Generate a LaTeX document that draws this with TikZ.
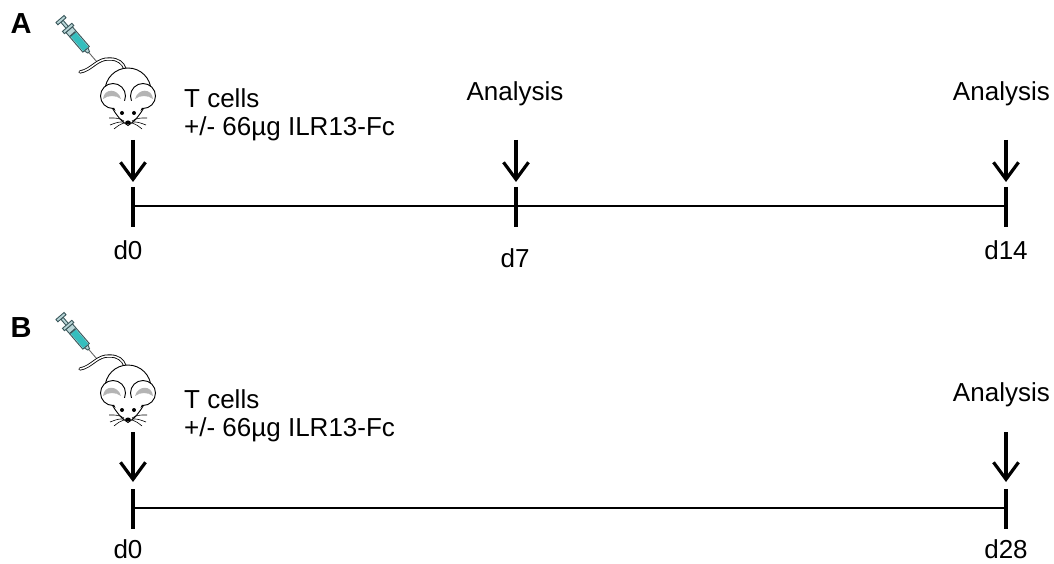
\documentclass[tikz,border=0pt]{standalone}
\usepackage{fontspec}
\setmainfont{Liberation Sans}
\usetikzlibrary{arrows.meta}

\definecolor{barrelfill}{HTML}{B9D6D8}
\definecolor{liquid}{HTML}{35BEBE}
\definecolor{syrline}{HTML}{3A575B}
\definecolor{earfill}{HTML}{B4B4B4}

\tikzset{
  lbl/.style={font=\fontsize{26}{28}\selectfont, inner sep=0pt},
  panel/.style={font=\fontsize{29}{30}\selectfont\bfseries, inner sep=0pt},
  timeline/.style={line width=2pt},
  tickmark/.style={line width=3.6pt},
  cue/.style={line width=3.2pt, -{Straight Barb[length=17pt,width=25pt,line width=3.2pt]}},
  % syringe drawn along its own x axis, plunger at the origin
  syringe/.pic={
    \begin{scope}[draw=syrline, line width=0.9pt]
      \draw[gray!80!black, line width=0.9pt] (44,0) -- (57,0);
      \filldraw[fill=barrelfill] (40,-2.4) -- (44,-1.1) -- (44,1.1) -- (40,2.4) -- cycle;
      \filldraw[fill=barrelfill] (14,-4.3) rectangle (40,4.3);
      \fill[liquid] (20.5,-3.3) rectangle (39.4,3.3);
      \fill[syrline] (19,-3.5) rectangle (20.5,3.5);
      \filldraw[fill=barrelfill] (3,-1.5) rectangle (14,1.5);
      \filldraw[fill=barrelfill] (11,-6.2) rectangle (14,6.2);
      \filldraw[fill=barrelfill] (0,-5.4) rectangle (3,5.4);
    \end{scope}
  },
  % mouse seen from above, head centre at the origin
  mouse/.pic={
    % tail
    \draw[line width=3.2pt, line cap=round]
      (-48,-28) .. controls (-36,-30) and (-31,-42) .. (-18,-41)
      .. controls (-10,-41) and (-5,-37) .. (-3,-31);
    \draw[white, line width=1.5pt, line cap=round]
      (-48,-28) .. controls (-36,-30) and (-31,-42) .. (-18,-41)
      .. controls (-10,-41) and (-5,-37) .. (-3,-31);
    % body
    \filldraw[fill=white, line width=0.9pt] (0,-9) ellipse [x radius=23, y radius=23];
    % ears
    \filldraw[fill=white, line width=0.9pt] (-15,-4) circle [radius=12.5];
    \filldraw[fill=white, line width=0.9pt] (15,-4) circle [radius=12.5];
    \fill[earfill] (-25,-1) .. controls (-24,-12) and (-10,-12) .. (-7,-1)
      .. controls (-12,-5) and (-20,-5) .. cycle;
    \fill[earfill] (25,-1) .. controls (24,-12) and (10,-12) .. (7,-1)
      .. controls (12,-5) and (20,-5) .. cycle;
    % face, covering the inner lower part of the ears
    \fill[white] (-14,7) .. controls (-11,15) and (-6,22) .. (0,25.5)
      .. controls (6,22) and (11,15) .. (14,7) -- (6,1) -- (-6,1) -- cycle;
    \draw[line width=0.9pt] (-15.5,8.4) .. controls (-11,16) and (-6,22) .. (0,25.5)
      .. controls (6,22) and (11,16) .. (15.5,8.4);
    % eyes and nose
    \fill (-6,13) circle [radius=2];
    \fill (6,13) circle [radius=2];
    \fill (0,22.5) ellipse [x radius=2.8, y radius=2];
    % whiskers
    \begin{scope}[line width=0.6pt]
      \draw (-4,21) .. controls (-10,18) .. (-19,18);
      \draw (-4,22) .. controls (-10,22) .. (-18,25);
      \draw (-4,23) .. controls (-9,25) .. (-14,29);
      \draw (4,21) .. controls (10,18) .. (19,18);
      \draw (4,22) .. controls (10,22) .. (18,25);
      \draw (4,23) .. controls (9,25) .. (14,29);
    \end{scope}
  },
}

\begin{document}
\begin{tikzpicture}[x=1pt, y=-1pt]
  \useasboundingbox (0,0) rectangle (1054,564);

  % ---------------- panel A ----------------
  \node[panel] (labA) at (21,24) {A};
  \pic[rotate=-49.3] at (60,19) {syringe};
  \pic at (128,100) {mouse};

  \node[lbl, anchor=base west] (injA1) at (184,108) {T cells};
  \node[lbl, anchor=base west] (injA2) at (184,136) {+/- 66µg ILR13-Fc};
  \node[lbl, anchor=base] (anA7) at (515,101) {Analysis};
  \node[lbl, anchor=base east] (anA14) at (1050,101) {Analysis};

  \coordinate (a0) at (133,206);
  \coordinate (a7) at (516,206);
  \coordinate (a14) at (1006,206);
  \draw[timeline] (a0) -- (a14);
  \foreach \p in {a0,a7,a14} {
    \draw[tickmark] ([yshift=19pt]\p) -- ([yshift=-21pt]\p);
    \coordinate (\p s) at ([yshift=66pt]\p);
    \coordinate (\p e) at ([yshift=24pt]\p);
    \draw[cue] (\p s) -- (\p e);
  }
  \node[lbl, anchor=base] (dA0) at (128,259) {d0};
  \node[lbl, anchor=base] (dA7) at (515,267) {d7};
  \node[lbl, anchor=base] (dA14) at (1006,259) {d14};

  % ---------------- panel B ----------------
  \node[panel] (labB) at (21,328) {B};
  \pic[rotate=-49.3] at (60,316) {syringe};
  \pic at (128,397) {mouse};

  \node[lbl, anchor=base west] (injB1) at (184,408) {T cells};
  \node[lbl, anchor=base west] (injB2) at (184,436) {+/- 66µg ILR13-Fc};
  \node[lbl, anchor=base east] (anB28) at (1050,401) {Analysis};

  \coordinate (b0) at (133,508);
  \coordinate (b28) at (1006,508);
  \draw[timeline] (b0) -- (b28);
  \foreach \p in {b0,b28} {
    \draw[tickmark] ([yshift=19pt]\p) -- ([yshift=-21pt]\p);
    \coordinate (\p s) at ([yshift=76pt]\p);
    \coordinate (\p e) at ([yshift=26pt]\p);
    \draw[cue] (\p s) -- (\p e);
  }
  \node[lbl, anchor=base] (dB0) at (128,558) {d0};
  \node[lbl, anchor=base] (dB28) at (1006,558) {d28};
\end{tikzpicture}
\end{document}
